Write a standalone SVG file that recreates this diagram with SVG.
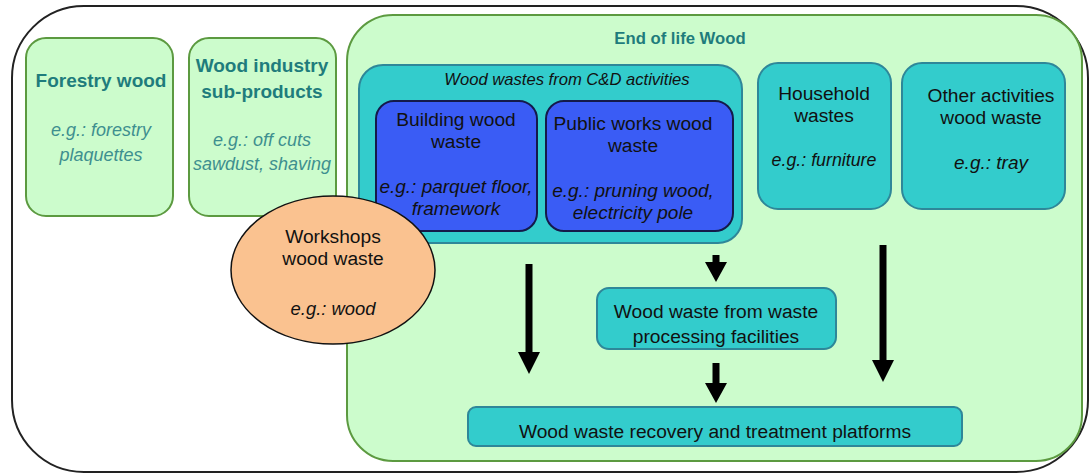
<svg xmlns="http://www.w3.org/2000/svg" width="1089" height="474" viewBox="0 0 1089 474">
  <style>
    text { font-family: "Liberation Sans", Arial, sans-serif; text-anchor: middle; }
    .green { fill: #ccfccc; stroke: #5c9a40; stroke-width: 2; }
    .teal { fill: #33cccc; stroke: #2e8799; stroke-width: 2; }
    .blue { fill: #3a5cf5; stroke: #141a4a; stroke-width: 2; }
    .peach { fill: #fac290; stroke: #111; stroke-width: 1.5; }
    .hd { font-weight: bold; font-size: 19px; fill: #1f7c7c; }
    .ex { font-style: italic; font-size: 18px; fill: #3e8f8f; }
    .lb { font-size: 19.2px; fill: #111; }
    .it { font-style: italic; font-size: 19px; fill: #111; }
    .arrow { fill: #000; }
  </style>

  <!-- outer frame -->
  <rect x="12" y="6" width="1076" height="466" rx="72" fill="#fff" stroke="#222" stroke-width="2"/>

  <g id="forestry">
    <rect class="green" x="26" y="38" width="147" height="178" rx="20"/>
    <text class="hd" x="101" y="87">Forestry wood</text>
    <text class="ex" x="101" y="136">e.g.: forestry</text>
    <text class="ex" x="101" y="161">plaquettes</text>
  </g>

  <g id="industry">
    <rect class="green" x="189" y="38" width="147" height="178" rx="20"/>
    <text class="hd" x="262" y="72">Wood industry</text>
    <text class="hd" x="262" y="98">sub-products</text>
    <text class="ex" x="262" y="146">e.g.: off cuts</text>
    <text class="ex" x="262" y="170">sawdust, shaving</text>
  </g>

  <g id="end-of-life">
    <rect class="green" x="347" y="15" width="735" height="446" rx="46"/>
    <text class="hd" x="680" y="44" style="font-size:16.7px">End of life Wood</text>
  </g>

  <g id="cd-activities">
    <rect class="teal" x="359" y="65" width="383" height="178" rx="24"/>
    <text class="it" x="567" y="85" style="font-size:16.6px">Wood wastes from C&amp;D activities</text>
  </g>

  <g id="building">
    <rect class="blue" x="376" y="101" width="161" height="130" rx="18"/>
    <text class="lb" x="456" y="126">Building wood</text>
    <text class="lb" x="456" y="148">waste</text>
    <text class="it" x="456" y="193">e.g.: parquet floor,</text>
    <text class="it" x="456" y="215">framework</text>
  </g>

  <g id="public-works">
    <rect class="blue" x="546" y="101" width="187" height="130" rx="18"/>
    <text class="lb" x="633" y="130">Public works wood</text>
    <text class="lb" x="633" y="152">waste</text>
    <text class="it" x="633" y="197">e.g.: pruning wood,</text>
    <text class="it" x="633" y="219">electricity pole</text>
  </g>

  <g id="household">
    <rect class="teal" x="758" y="63" width="133" height="146" rx="20"/>
    <text class="lb" x="824" y="100">Household</text>
    <text class="lb" x="824" y="122">wastes</text>
    <text class="it" x="824" y="166" style="font-size:17.8px">e.g.: furniture</text>
  </g>

  <g id="other">
    <rect class="teal" x="902" y="63" width="163" height="146" rx="20"/>
    <text class="lb" x="991" y="102">Other activities</text>
    <text class="lb" x="991" y="124">wood waste</text>
    <text class="it" x="991" y="169">e.g.: tray</text>
  </g>

  <g id="workshops">
    <ellipse class="peach" cx="333" cy="270" rx="102" ry="74"/>
    <text class="lb" x="333" y="243">Workshops</text>
    <text class="lb" x="333" y="265">wood waste</text>
    <text class="it" x="333" y="315" style="font-size:18.4px">e.g.: wood</text>
  </g>

  <g id="processing">
    <rect class="teal" x="597" y="288" width="239" height="61" rx="12"/>
    <text class="lb" x="716" y="318">Wood waste from waste</text>
    <text class="lb" x="716" y="343">processing facilities</text>
  </g>

  <g id="platforms">
    <rect class="teal" x="468" y="407" width="494" height="39" rx="8"/>
    <text class="lb" x="715" y="438">Wood waste recovery and treatment platforms</text>
  </g>

  <!-- block arrows -->
  <g id="connectors">
    <polygon class="arrow" points="525.5,264 532.5,264 532.5,352 540,352 529,374 518,352 525.5,352"/>
    <polygon class="arrow" points="712.5,255 719.5,255 719.5,262 727,262 716,282 705,262 712.5,262"/>
    <polygon class="arrow" points="712.5,363 719.5,363 719.5,383 727,383 716,403 705,383 712.5,383"/>
    <polygon class="arrow" points="879.5,245 886.5,245 886.5,360 894,360 883,382 872,360 879.5,360"/>
  </g>
</svg>
